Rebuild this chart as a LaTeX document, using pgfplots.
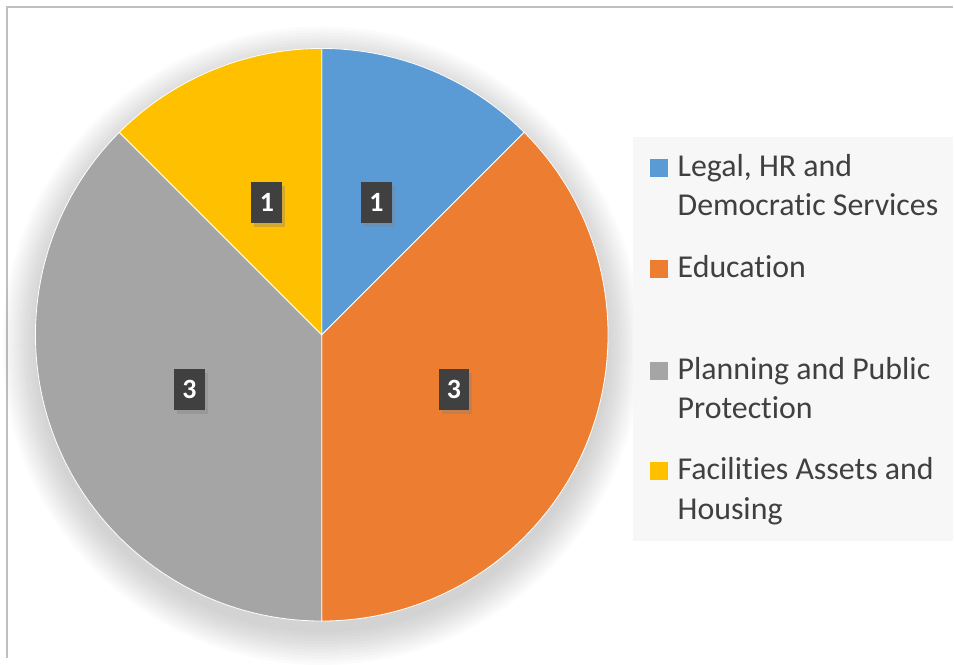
\documentclass[border=0pt]{standalone}
\usepackage{pgfplots}
\pgfplotsset{compat=1.18}
\usepackage{fontspec}
\setmainfont{Carlito}[Ligatures={NoCommon,NoContextual}]
\usetikzlibrary{shadows}

\definecolor{cLegal}{HTML}{5B9BD5}
\definecolor{cEdu}{HTML}{ED7D31}
\definecolor{cPlan}{HTML}{A5A5A5}
\definecolor{cFac}{HTML}{FFC000}
\definecolor{txt}{HTML}{404040}
\definecolor{lblbox}{HTML}{404040}

% slice values
\def\vLegal{1}
\def\vEdu{3}
\def\vPlan{3}
\def\vFac{1}
\pgfmathsetmacro\tot{\vLegal+\vEdu+\vPlan+\vFac}
\pgfmathsetmacro\aA{90}
\pgfmathsetmacro\aB{\aA-360*\vLegal/\tot}
\pgfmathsetmacro\aC{\aB-360*\vEdu/\tot}
\pgfmathsetmacro\aD{\aC-360*\vPlan/\tot}
\pgfmathsetmacro\aE{\aD-360*\vFac/\tot}
\pgfmathsetmacro\mA{(\aA+\aB)/2}
\pgfmathsetmacro\mB{(\aB+\aC)/2}
\pgfmathsetmacro\mC{(\aC+\aD)/2}
\pgfmathsetmacro\mD{(\aD+\aE)/2}
\def\R{286.5bp}

\tikzset{
  lbl/.style={fill=lblbox, text=white, inner sep=0pt, minimum width=31bp,
    minimum height=41bp, font=\fontsize{28}{28}\selectfont\bfseries,
    drop shadow={shadow xshift=3bp, shadow yshift=-4bp, opacity=0.35}},
  legtxt/.style={anchor=base west, inner sep=0pt, text=txt,
    font=\fontsize{32}{39}\selectfont},
}

\begin{document}
\begin{tikzpicture}
\begin{axis}[scale only axis, width=954bp, height=659bp,
  xmin=0, xmax=954, ymin=0, ymax=659, y dir=reverse,
  hide axis, clip=false]
  \path (axis cs:0,0) rectangle (axis cs:954,659);
  % outer frame (left and top edges)
  \draw[color=black!25, line width=1.5bp] (axis cs:7,659) -- (axis cs:7,7) -- (axis cs:954,7);
  % soft shadow under the pie
  \pgfplotsinvokeforeach{0,...,11}{
    \fill[black, opacity=0.015] (axis cs:322,346) circle[radius=286.5bp+#1*3bp];
  }
  % slices
  \fill[cLegal, draw=white, line width=0.8bp] (axis cs:322,335) -- ++(\aA:\R) arc[start angle=\aA, end angle=\aB, radius=\R] -- cycle;
  \fill[cEdu, draw=white, line width=0.8bp] (axis cs:322,335) -- ++(\aB:\R) arc[start angle=\aB, end angle=\aC, radius=\R] -- cycle;
  \fill[cPlan, draw=white, line width=0.8bp] (axis cs:322,335) -- ++(\aC:\R) arc[start angle=\aC, end angle=\aD, radius=\R] -- cycle;
  \fill[cFac, draw=white, line width=0.8bp] (axis cs:322,335) -- ++(\aD:\R) arc[start angle=\aD, end angle=\aE, radius=\R] -- cycle;
  % data labels
  \path (axis cs:322,335) ++(\mA:143.25bp) node[lbl] {\vLegal};
  \path (axis cs:322,335) ++(\mB:143.25bp) node[lbl] {\vEdu};
  \path (axis cs:322,335) ++(\mC:143.25bp) node[lbl] {\vPlan};
  \path (axis cs:322,335) ++(\mD:143.25bp) node[lbl] {\vFac};
  % legend
  \fill[black!3] (axis cs:633,137) rectangle (axis cs:954,541);
  \fill[cLegal] (axis cs:651,159) rectangle (axis cs:669,177);
  \node[legtxt] at (axis cs:678,177) {Legal, HR and};
  \node[legtxt] at (axis cs:678,216) {Democratic Services};
  \fill[cEdu] (axis cs:651,260) rectangle (axis cs:669,278);
  \node[legtxt] at (axis cs:678,278) {Education};
  \fill[cPlan] (axis cs:651,362) rectangle (axis cs:669,380);
  \node[legtxt] at (axis cs:678,380) {Planning and Public};
  \node[legtxt] at (axis cs:678,419) {Protection};
  \fill[cFac] (axis cs:651,462) rectangle (axis cs:669,480);
  \node[legtxt] at (axis cs:678,480) {Facilities Assets and};
  \node[legtxt] at (axis cs:678,520) {Housing};
\end{axis}
\end{tikzpicture}
\end{document}
